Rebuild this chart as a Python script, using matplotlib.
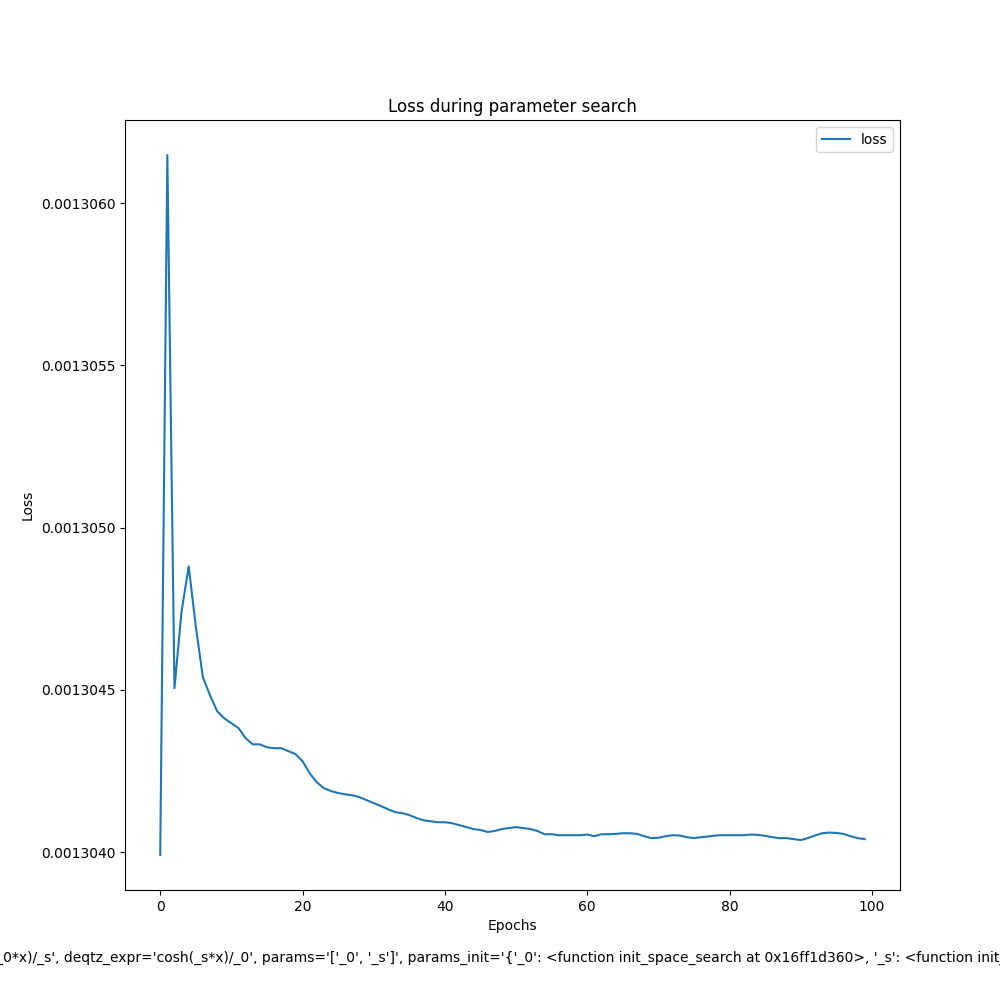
import matplotlib
matplotlib.use('Agg')
import matplotlib.pyplot as plt
from matplotlib.ticker import ScalarFormatter

# loss per epoch (offsets in 1e-9 above 0.0013040)
epochs = list(range(100))
loss_offset = [
    -9, 2148, 505, 742, 880, 695, 538, 483, 434, 412,
    397, 382, 351, 332, 332, 323, 320, 320, 311, 302,
    280, 243, 215, 197, 188, 182, 178, 175, 169, 160,
    151, 142, 132, 123, 120, 114, 105, 98, 95, 92,
    92, 89, 83, 77, 71, 68, 62, 65, 71, 74,
    77, 74, 71, 65, 55, 55, 52, 52, 52, 52,
    54, 49, 55, 55, 56, 58, 58, 56, 49, 43,
    44, 49, 52, 51, 46, 43, 46, 48, 51, 52,
    52, 52, 52, 54, 53, 50, 46, 43, 43, 40,
    37, 43, 51, 58, 60, 59, 56, 49, 43, 40,
]
loss = [0.0013040 + v * 1e-9 for v in loss_offset]

config_text = ("BestSearchConfig(qtz_expr='sinh(_0*x)/_s', deqtz_expr='cosh(_s*x)/_0', "
               "params='['_0', '_s']', params_init='{'_0': <function init_space_search at 0x16ff1d360>, "
               "'_s': <function init_space_search at 0x16ff1d400>}')")

fig, ax = plt.subplots(figsize=(10, 10))
ax.plot(epochs, loss, label='loss')
ax.set_title('Loss during parameter search')
ax.set_xlabel('Epochs')
ax.set_ylabel('Loss')
ax.legend()
ax.yaxis.set_major_formatter(ScalarFormatter(useOffset=False))

fig.text(0.5, 0.038, config_text, ha='center')

plt.savefig('out.png', dpi=100)
